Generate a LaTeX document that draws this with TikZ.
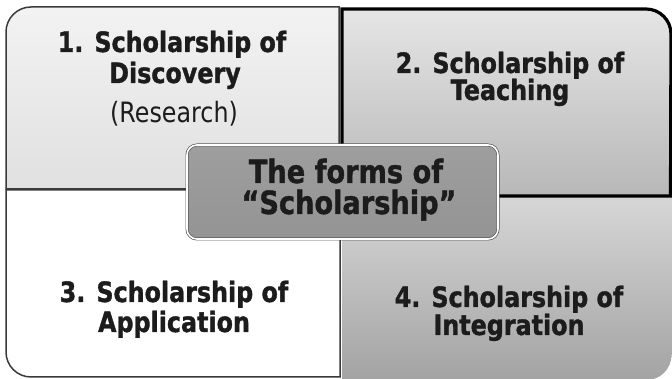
\documentclass[tikz,border=0pt]{standalone}
\usepackage{fontspec}
\newfontfamily\tb[FakeStretch=0.85,FakeBold=1.2]{DejaVu Sans Bold}
\newfontfamily\tr[FakeStretch=0.85]{DejaVu Sans}
\definecolor{ink}{HTML}{1C1C1C}
\definecolor{thinb}{HTML}{3A3A3A}
\begin{document}
\begin{tikzpicture}[x=1pt,y=1pt,
  qtext/.style={font=\tb\fontsize{28}{30}\selectfont, text=ink, anchor=base, inner sep=0pt},
  rtext/.style={font=\tr\fontsize{28}{30}\selectfont, text=ink, anchor=base, inner sep=0pt},
  ctext/.style={font=\tb\fontsize{32}{36}\selectfont, text=ink, anchor=base, inner sep=0pt},
  thinq/.style={draw=thinb, line width=1.5pt},
  thickq/.style={draw=black, line width=3.2pt}]
\useasboundingbox (0,0) rectangle (672,379);
\fill[white] (0,0) rectangle (672,379);
% Quadrant 1
\path[thinq, top color=black!5, bottom color=black!12]
  (6,190) -- (6,347) arc[start angle=180,end angle=90,radius=25] -- (339,372) -- (339,190) -- cycle;
% Quadrant 3
\path[thinq, fill=white]
  (6,189) -- (6,27) arc[start angle=180,end angle=270,radius=25] -- (340,2) -- (340,189) -- cycle;
% Quadrant 4
\path[top color=black!16, bottom color=black!36]
  (342,182) -- (671.5,182) -- (671.5,24) arc[start angle=0,end angle=-90,radius=25] -- (342,-1) -- cycle;
% Quadrant 2
\path[thickq, top color=black!10, bottom color=black!28]
  (342,183) -- (342,370) -- (646,370) arc[start angle=90,end angle=0,radius=25] -- (670.5,183) -- cycle;
% Centre box
\node[draw=black!65, double=white, double distance=1.6pt, line width=0.7pt,
  top color=black!38, bottom color=black!42, rounded corners=10pt,
  minimum width=311pt, minimum height=94pt, inner sep=0pt]
  (ctr) at (342.5,187) {};
% Texts
\node[qtext] (q1a) at (172,327) {1. Scholarship of};
\node[qtext] (q1b) at (175,296) {Discovery};
\node[rtext] (q1c) at (174,256) {(Research)};
\node[qtext] (q2a) at (510,306) {2. Scholarship of};
\node[qtext] (q2b) at (510,279) {Teaching};
\node[qtext] (q3a) at (174,77) {3. Scholarship of};
\node[qtext] (q3b) at (174,47) {Application};
\node[qtext] (q4a) at (509,72) {4. Scholarship of};
\node[qtext] (q4b) at (509,44) {Integration};
\node[ctext] (c1) at (346,196) {The forms of};
\node[ctext] (c2) at (349,165) {“Scholarship”};
\end{tikzpicture}
\end{document}
